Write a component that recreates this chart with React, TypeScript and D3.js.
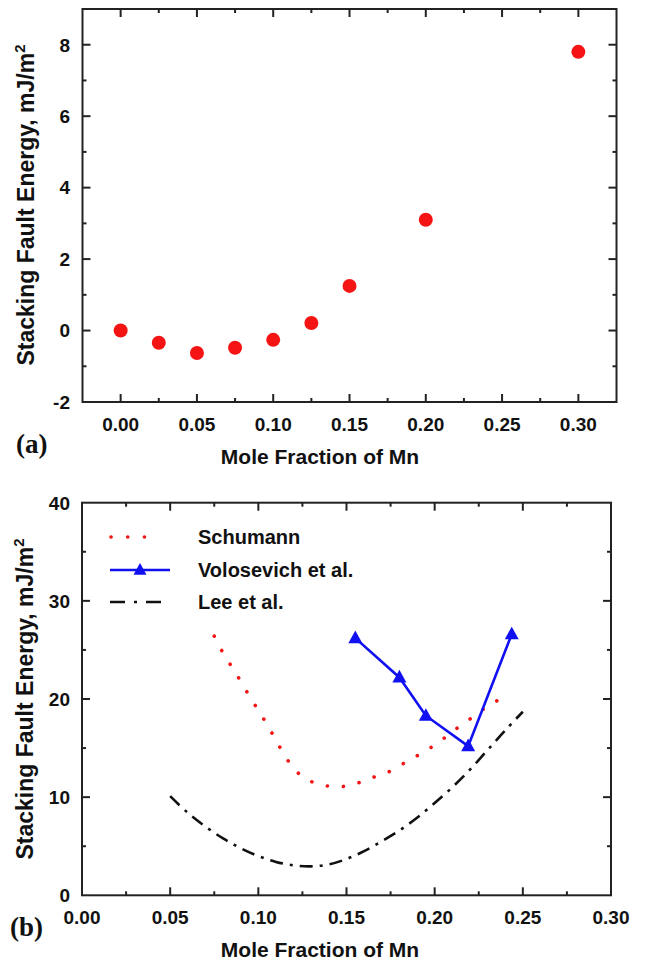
import React from "react";
import * as d3 from "d3";

// ---------- Data ----------
// Panel (a): calculated SFE vs Mn mole fraction
const aX = [0.0, 0.025, 0.05, 0.075, 0.1, 0.125, 0.15, 0.2, 0.3];
const aY = [0.0, -0.34, -0.63, -0.48, -0.26, 0.21, 1.25, 3.1, 7.8];
const aXTicks = [0.0, 0.05, 0.1, 0.15, 0.2, 0.25, 0.3];
const aYTicks = [-2, 0, 2, 4, 6, 8];

// Panel (b)
const schumannX = [0.075, 0.0809, 0.0867, 0.0926, 0.0984, 0.1043, 0.1097, 0.1148, 0.1202, 0.1266, 0.1348, 0.145, 0.154, 0.163, 0.173, 0.183, 0.1927, 0.2016, 0.211, 0.2203, 0.2304, 0.2402];
const schumannY = [26.4, 24.4, 22.8, 21.0, 19.3, 17.6, 15.9, 14.3, 12.9, 11.9, 11.3, 11.05, 11.3, 11.9, 12.5, 13.5, 14.5, 15.5, 16.8, 18.0, 19.3, 20.3];
const voloX = [0.155, 0.18, 0.195, 0.219, 0.2437];
const voloY = [26.2, 22.2, 18.3, 15.2, 26.6];
const leeX = [0.05, 0.06, 0.07, 0.08, 0.09, 0.1, 0.11, 0.12, 0.13, 0.14, 0.15, 0.16, 0.17, 0.18, 0.19, 0.2, 0.21, 0.22, 0.23, 0.24, 0.25];
const leeY = [10.1, 8.4, 7.0, 5.8, 4.8, 4.0, 3.4, 3.05, 2.95, 3.15, 3.7, 4.5, 5.5, 6.6, 7.9, 9.4, 11.0, 12.8, 14.8, 16.8, 18.7];
const bXTicks = [0.0, 0.05, 0.1, 0.15, 0.2, 0.25, 0.3];
const bYTicks = [0, 10, 20, 30, 40];
const legendLabels = ["Schumann", "Volosevich et al.", "Lee et al."];

const FONT = "'Liberation Sans', Arial, Helvetica, sans-serif";
const RED = "#f41414";
const BLUE = "#1010f0";

type Frame = { l: number; r: number; t: number; b: number };

function Axes({ x, y, f, xTicks, yTicks, xMinor, yMinor, fmtX, fmtY, xLabelY }: any) {
  const els: any[] = [];
  const maj = 8, mnr = 4;
  xMinor.forEach((v: number, i: number) => {
    const px = x(v);
    const isMaj = xTicks.some((t: number) => Math.abs(t - v) < 1e-9);
    const L = isMaj ? maj : mnr;
    els.push(<line key={"xb" + i} x1={px} x2={px} y1={f.b} y2={f.b - L} stroke="#222" strokeWidth={2} />);
    els.push(<line key={"xt" + i} x1={px} x2={px} y1={f.t} y2={f.t + L} stroke="#222" strokeWidth={2} />);
  });
  yMinor.forEach((v: number, i: number) => {
    const py = y(v);
    const isMaj = yTicks.some((t: number) => Math.abs(t - v) < 1e-9);
    const L = isMaj ? maj : mnr;
    els.push(<line key={"yl" + i} x1={f.l} x2={f.l + L} y1={py} y2={py} stroke="#222" strokeWidth={2} />);
    els.push(<line key={"yr" + i} x1={f.r} x2={f.r - L} y1={py} y2={py} stroke="#222" strokeWidth={2} />);
  });
  xTicks.forEach((v: number, i: number) => {
    els.push(
      <text key={"xl" + i} x={x(v)} y={xLabelY} textAnchor="middle" fontFamily={FONT} fontWeight="bold" fontSize={19} fill="#111">
        {fmtX(v)}
      </text>
    );
  });
  yTicks.forEach((v: number, i: number) => {
    els.push(
      <text key={"yll" + i} x={70} y={y(v)} dy="0.36em" textAnchor="end" fontFamily={FONT} fontWeight="bold" fontSize={19} fill="#111">
        {fmtY(v)}
      </text>
    );
  });
  els.push(<rect key="frame" x={f.l} y={f.t} width={f.r - f.l} height={f.b - f.t} fill="none" stroke="#222" strokeWidth={2} />);
  return <g>{els}</g>;
}

function YTitle({ cx, cy }: { cx: number; cy: number }) {
  return (
    <text transform={`translate(${cx},${cy}) rotate(-90)`} textAnchor="middle" dy="0.36em" fontFamily={FONT} fontWeight="bold" fontSize={23} fill="#111">
      Stacking Fault Energy, mJ/m<tspan dy="-0.6em" fontSize={15}>2</tspan>
    </text>
  );
}

function tri(cx: number, cy: number, s: number) {
  const h = s * 0.9;
  return `M${cx},${cy - h * 0.6} L${cx + s / 2},${cy + h * 0.4} L${cx - s / 2},${cy + h * 0.4} Z`;
}

export default function App() {
  // Panel a
  const fa: Frame = { l: 82.5, r: 616.5, t: 9, b: 402 };
  const xa = d3.scaleLinear().domain([-0.025, 0.325]).range([fa.l, fa.r]);
  const ya = d3.scaleLinear().domain([-2, 9]).range([fa.b, fa.t]);
  const aXMinor = d3.range(0, 13).map((i) => i * 0.025);
  const aYMinor = d3.range(-2, 10);

  // Panel b
  const fb: Frame = { l: 82, r: 611, t: 502.7, b: 895.3 };
  const xb = d3.scaleLinear().domain([0, 0.3]).range([fb.l, fb.r]);
  const yb = d3.scaleLinear().domain([0, 40]).range([fb.b, fb.t]);
  const bXMinor = d3.range(1, 12).map((i) => i * 0.025);
  const bYMinor = d3.range(1, 8).map((i) => i * 5);

  const fmt2 = d3.format(".2f");
  const fmt0 = (v: number) => String(v);

  const lineB = d3
    .line<[number, number]>()
    .x((d) => xb(d[0]))
    .y((d) => yb(d[1]))
    .curve(d3.curveCatmullRom.alpha(0.5));
  const lineStraight = d3
    .line<[number, number]>()
    .x((d) => xb(d[0]))
    .y((d) => yb(d[1]));

  const schData = schumannX.map((v, i) => [v, schumannY[i]] as [number, number]);
  const leeData = leeX.map((v, i) => [v, leeY[i]] as [number, number]);
  const voloData = voloX.map((v, i) => [v, voloY[i]] as [number, number]);

  const legY = [537, 570, 602];

  return (
    <svg width={647} height={962} style={{ position: "absolute", left: 0, top: 0, background: "#fff" }}>
      <rect width={647} height={962} fill="#fff" />
      {/* Panel (a) */}
      <Axes x={xa} y={ya} f={fa} xTicks={aXTicks} yTicks={aYTicks} xMinor={aXMinor} yMinor={aYMinor} fmtX={fmt2} fmtY={fmt0} xLabelY={431} />
      {aX.map((v, i) => (
        <circle key={"a" + i} cx={xa(v)} cy={ya(aY[i])} r={7} fill={RED} />
      ))}
      <YTitle cx={26} cy={205} />
      <text x={320} y={464} textAnchor="middle" fontFamily={FONT} fontWeight="bold" fontSize={21} fill="#111">
        Mole Fraction of Mn
      </text>
      <text x={16} y={453} fontFamily="'Liberation Serif', 'Times New Roman', serif" fontWeight="bold" fontSize={27} fill="#111">
        (a)
      </text>

      {/* Panel (b) */}
      <Axes x={xb} y={yb} f={fb} xTicks={bXTicks} yTicks={bYTicks} xMinor={bXMinor} yMinor={bYMinor} fmtX={fmt2} fmtY={fmt0} xLabelY={924} />
      <path d={lineB(schData) || ""} fill="none" stroke={RED} strokeWidth={3.6} strokeLinecap="round" strokeDasharray="0.1 16" />
      <path d={lineB(leeData) || ""} fill="none" stroke="#111" strokeWidth={2.6} strokeDasharray="13 7 3 7" />
      <path d={lineStraight(voloData) || ""} fill="none" stroke={BLUE} strokeWidth={2.6} />
      {voloData.map((d, i) => (
        <path key={"v" + i} d={tri(xb(d[0]), yb(d[1]), 14)} fill={BLUE} />
      ))}
      {/* Legend */}
      <line x1={111} x2={161} y1={legY[0]} y2={legY[0]} stroke={RED} strokeWidth={3.6} strokeLinecap="round" strokeDasharray="0.1 16.6" />
      <line x1={110} x2={170} y1={legY[1]} y2={legY[1]} stroke={BLUE} strokeWidth={2.6} />
      <path d={tri(140, legY[1], 13)} fill={BLUE} />
      <line x1={110} x2={163} y1={legY[2]} y2={legY[2]} stroke="#111" strokeWidth={2.6} strokeDasharray="15 9 3 9" />
      {legendLabels.map((s, i) => (
        <text key={"lg" + i} x={198} y={legY[i]} dy="0.36em" fontFamily={FONT} fontWeight="bold" fontSize={20} fill="#111">
          {s}
        </text>
      ))}
      <YTitle cx={25} cy={699} />
      <text x={320} y={957} textAnchor="middle" fontFamily={FONT} fontWeight="bold" fontSize={21} fill="#111">
        Mole Fraction of Mn
      </text>
      <text x={10} y={936} fontFamily="'Liberation Serif', 'Times New Roman', serif" fontWeight="bold" fontSize={27} fill="#111">
        (b)
      </text>
    </svg>
  );
}
